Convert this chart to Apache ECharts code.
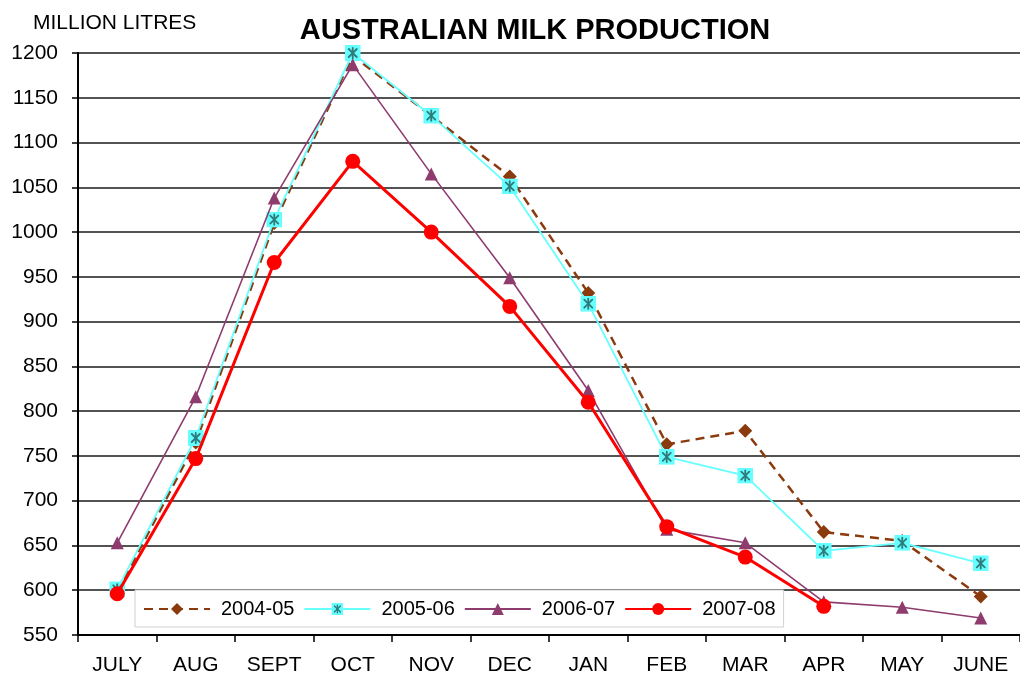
<!DOCTYPE html>
<html>
<head>
<meta charset="utf-8">
<script src="https://cdn.jsdelivr.net/npm/echarts@6/dist/echarts.min.js"></script>
<style>
  html, body { margin: 0; padding: 0; background: #fff; }
  #chart { width: 1020px; height: 679px; }
</style>
</head>
<body>
<div id="chart"></div>
<script>
// Monthly milk production, million litres
const months = ['JULY', 'AUG', 'SEPT', 'OCT', 'NOV', 'DEC', 'JAN', 'FEB', 'MAR', 'APR', 'MAY', 'JUNE'];
const season0405 = [598, 765, 1010, 1197, 1130, 1062, 932, 763, 778, 665, 655, 593];
const season0506 = [601, 770, 1014, 1200, 1130, 1051, 920, 749, 728, 644, 653, 630];
const season0607 = [653, 816, 1038, 1187, 1065, 949, 823, 668, 653, 587, 581, 569];
const season0708 = [596, 747, 966, 1079, 1000, 917, 810, 671, 637, 582];
const seasonNames = ['2004-05', '2005-06', '2006-07', '2007-08'];

// Square marker with an asterisk, as an inline SVG image
const starBox = 'image://data:image/svg+xml;charset=utf-8,' + encodeURIComponent(
  '<svg xmlns="http://www.w3.org/2000/svg" width="14" height="14" viewBox="0 0 14 14">' +
  '<rect x="0" y="0" width="14" height="14" fill="#66ffff"/>' +
  '<g stroke="#2f7a7a" stroke-width="1.6" stroke-linecap="round">' +
  '<line x1="7" y1="2.5" x2="7" y2="11.5"/>' +
  '<line x1="3.5" y1="3.5" x2="10.5" y2="10.5"/>' +
  '<line x1="10.5" y1="3.5" x2="3.5" y2="10.5"/>' +
  '</g></svg>');

const font = 'Liberation Sans, Arial, sans-serif';

const chart = echarts.init(document.getElementById('chart'), null, { renderer: 'canvas' });
chart.setOption({
  animation: false,
  backgroundColor: '#ffffff',
  title: [
    {
      text: 'AUSTRALIAN MILK PRODUCTION',
      left: 530, top: 11, textAlign: 'center',
      textStyle: { fontFamily: font, fontSize: 29, fontWeight: 'bold', color: '#000' }
    },
    {
      text: 'MILLION LITRES',
      left: 28, top: 8,
      textStyle: { fontFamily: font, fontSize: 21, fontWeight: 'normal', color: '#000' }
    }
  ],
  legend: {
    data: seasonNames,
    left: 135, top: 590,
    orient: 'horizontal',
    itemWidth: 66, itemHeight: 15, itemGap: 9,
    padding: [9, 8, 8, 8],
    backgroundColor: '#ffffff',
    borderColor: '#d0d0d0', borderWidth: 1,
    textStyle: { fontFamily: font, fontSize: 20, color: '#000', padding: [0, 0, 0, 6] }
  },
  grid: { left: 78, right: -7, top: 53, bottom: 44, containLabel: false },
  xAxis: {
    type: 'category',
    data: months,
    boundaryGap: true,
    axisLine: { lineStyle: { color: '#000', width: 2 } },
    axisTick: { show: true, length: 7, lineStyle: { color: '#000', width: 1.5 } },
    axisLabel: { fontFamily: font, fontSize: 21, color: '#000', margin: 20, interval: 0 }
  },
  yAxis: {
    type: 'value',
    min: 550, max: 1200, interval: 50,
    axisLine: { show: true, lineStyle: { color: '#000', width: 2 } },
    axisTick: { show: true, length: 6, lineStyle: { color: '#000', width: 1.5 } },
    axisLabel: {
      fontFamily: font, fontSize: 21, color: '#000', margin: 20,
      formatter: (v) => String(v)
    },
    splitLine: { show: true, lineStyle: { color: '#1a1a1a', width: 1.5 } }
  },
  series: [
    {
      name: seasonNames[0], type: 'line', data: season0405,
      symbol: 'diamond', symbolSize: 14,
      lineStyle: { color: '#8b3a0e', width: 2.5, type: [9, 6] },
      itemStyle: { color: '#8b3a0e' },
      z: 2
    },
    {
      name: seasonNames[1], type: 'line', data: season0506,
      symbol: starBox, symbolSize: 16,
      lineStyle: { color: '#66ffff', width: 1.8 },
      itemStyle: { color: '#66ffff' },
      z: 3
    },
    {
      name: seasonNames[2], type: 'line', data: season0607,
      symbol: 'triangle', symbolSize: 13,
      lineStyle: { color: '#8e3b6e', width: 1.6 },
      itemStyle: { color: '#8e3b6e' },
      z: 4
    },
    {
      name: seasonNames[3], type: 'line', data: season0708,
      symbol: 'circle', symbolSize: 15,
      lineStyle: { color: '#ff0000', width: 3 },
      itemStyle: { color: '#ff0000' },
      z: 5
    }
  ]
});
</script>
</body>
</html>
